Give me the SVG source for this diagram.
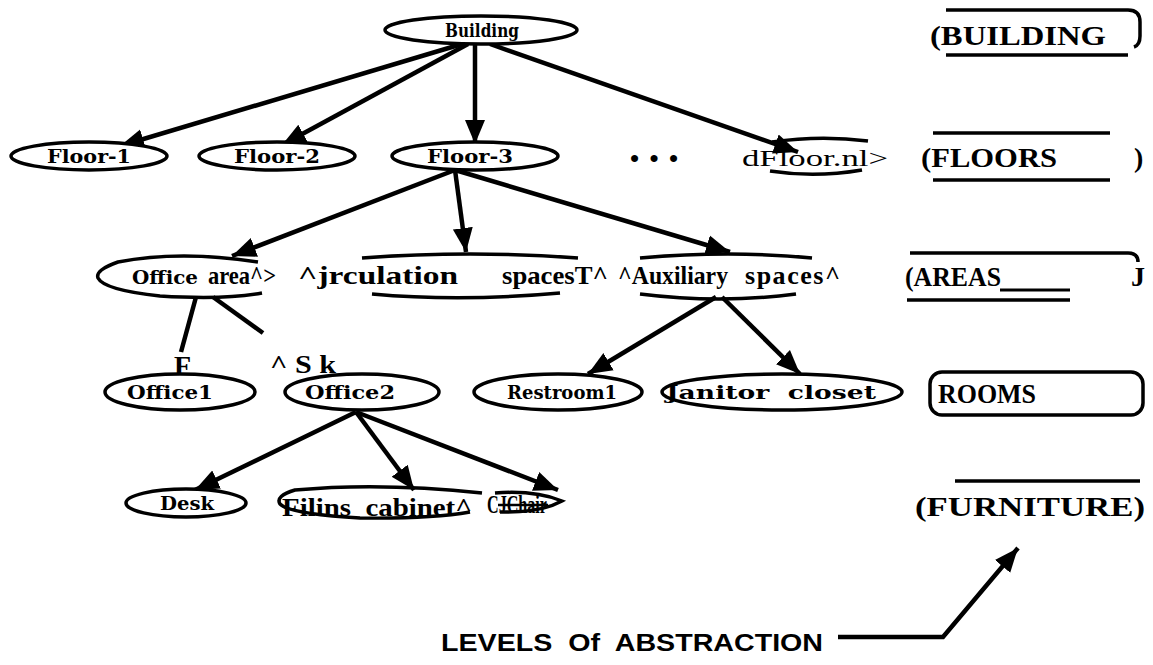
<svg xmlns="http://www.w3.org/2000/svg" width="1153" height="665" viewBox="0 0 1153 665">
<style>
.el{fill:#fff;stroke:#000;stroke-width:3.5}
.arc{fill:none;stroke:#000;stroke-width:3.5}
.ln{fill:none;stroke:#000;stroke-width:4.5}
.bl{font-family:"DejaVu Serif","Liberation Serif",serif;font-weight:bold;font-size:19px;fill:#000}
.tb{font-family:"Liberation Serif",serif;font-weight:bold;font-size:26px;fill:#000}
.tr{font-family:"Liberation Serif",serif;font-size:24px;fill:#000}
.lv{font-family:"Liberation Serif",serif;font-weight:bold;font-size:28px;fill:#000}
.ab{font-family:"Liberation Sans",Arial,sans-serif;font-weight:bold;font-size:24px;fill:#000}
</style>
<defs>
<marker id="ah" markerUnits="userSpaceOnUse" markerWidth="26" markerHeight="22" refX="24" refY="11" orient="auto">
<path d="M0,1 L24,11 L0,21 Z" fill="#000"/>
</marker>
</defs>

<g id="connectors">
<line class="ln" x1="462" y1="44" x2="120" y2="146" marker-end="url(#ah)"/>
<line class="ln" x1="468" y1="44" x2="282" y2="145" marker-end="url(#ah)"/>
<line class="ln" x1="475" y1="44" x2="475" y2="144" marker-end="url(#ah)"/>
<line class="ln" x1="490" y1="44" x2="798" y2="152" marker-end="url(#ah)"/>
<line class="ln" x1="455" y1="170" x2="232" y2="256" marker-end="url(#ah)"/>
<line class="ln" x1="455" y1="170" x2="466" y2="252" marker-end="url(#ah)"/>
<line class="ln" x1="455" y1="170" x2="730" y2="252" marker-end="url(#ah)"/>
<line class="ln" x1="196" y1="297" x2="181" y2="352"/>
<line class="ln" x1="213" y1="297" x2="263" y2="333"/>
<line class="ln" x1="716" y1="297" x2="588" y2="374" marker-end="url(#ah)"/>
<line class="ln" x1="722" y1="297" x2="800" y2="374" marker-end="url(#ah)"/>
<line class="ln" x1="356" y1="412" x2="195" y2="490" marker-end="url(#ah)"/>
<line class="ln" x1="356" y1="412" x2="414" y2="490" marker-end="url(#ah)"/>
<line class="ln" x1="356" y1="412" x2="558" y2="490" marker-end="url(#ah)"/>
<polyline class="ln" points="838,637 943,637 1018,548" stroke-width="3.5" marker-end="url(#ah)"/>
</g>

<g id="building">
<ellipse class="el" cx="481" cy="30" rx="96" ry="14"/>
<text class="bl" x="482" y="37" text-anchor="middle" textLength="74" lengthAdjust="spacingAndGlyphs">Building</text>
</g>

<g id="floor1">
<ellipse class="el" cx="89" cy="156" rx="78" ry="14"/>
<text class="bl" x="89" y="163" text-anchor="middle" textLength="84" lengthAdjust="spacingAndGlyphs">Floor-1</text>
</g>
<g id="floor2">
<ellipse class="el" cx="277" cy="156" rx="78" ry="14"/>
<text class="bl" x="277" y="163" text-anchor="middle" textLength="86" lengthAdjust="spacingAndGlyphs">Floor-2</text>
</g>
<g id="floor3">
<ellipse class="el" cx="475" cy="156" rx="83" ry="14"/>
<text class="bl" x="470" y="163" text-anchor="middle" textLength="86" lengthAdjust="spacingAndGlyphs">Floor-3</text>
</g>
<g id="dots">
<text class="tb" x="630" y="167" textLength="48" lengthAdjust="spacing">• • •</text>
</g>
<g id="floorn">
<path class="arc" d="M772,142 Q820,135 868,141"/>
<path class="arc" d="M770,171 Q815,178 862,170"/>
<text class="tr" x="742" y="166" textLength="146" lengthAdjust="spacingAndGlyphs">dFloor.nl&gt;</text>
</g>

<g id="office-area">
<path class="arc" d="M258,262 Q180,250 118,262 Q95,270 98,278 Q104,290 160,296 Q225,300 262,293"/>
<text class="bl" x="132" y="284" textLength="66" lengthAdjust="spacingAndGlyphs">Office</text>
<text class="tb" x="208" y="284" textLength="68" lengthAdjust="spacingAndGlyphs">area^&gt;</text>
</g>
<g id="circulation">
<path class="arc" d="M362,258 Q470,250 578,258"/>
<path class="arc" d="M372,294 Q460,302 560,293"/>
<text class="tb" x="298" y="284" textLength="160" lengthAdjust="spacingAndGlyphs">^jrculation</text>
<text class="tb" x="502" y="284" textLength="106" lengthAdjust="spacingAndGlyphs">spacesT^</text>
</g>
<g id="auxiliary">
<path class="arc" d="M640,258 Q730,250 812,258"/>
<path class="arc" d="M640,294 Q720,304 796,294"/>
<text class="tb" x="618" y="284" textLength="110" lengthAdjust="spacingAndGlyphs">^Auxiliary</text>
<text class="tb" x="745" y="284" textLength="95" lengthAdjust="spacing">spaces^</text>
</g>

<g id="office1-label">
<text class="lv" x="174" y="375">F</text>
<text class="tb" x="270" y="373" textLength="66" lengthAdjust="spacingAndGlyphs" xml:space="preserve">^ S k</text>
</g>
<g id="office1">
<ellipse class="el" cx="180" cy="392" rx="75" ry="18"/>
<text class="bl" x="170" y="399" text-anchor="middle" textLength="86" lengthAdjust="spacingAndGlyphs">Office1</text>
</g>
<g id="office2">
<ellipse class="el" cx="362" cy="392" rx="77" ry="18"/>
<text class="bl" x="350" y="399" text-anchor="middle" textLength="90" lengthAdjust="spacingAndGlyphs">Office2</text>
</g>
<g id="restroom1">
<ellipse class="el" cx="558" cy="392" rx="84" ry="18"/>
<text class="bl" x="562" y="399" text-anchor="middle" textLength="110" lengthAdjust="spacingAndGlyphs">Restroom1</text>
</g>
<g id="janitor">
<ellipse class="el" cx="782" cy="392" rx="120" ry="18"/>
<text class="bl" x="666" y="399" textLength="210" lengthAdjust="spacingAndGlyphs" xml:space="preserve">Janitor  closet</text>
</g>

<g id="desk">
<ellipse class="el" cx="186" cy="503" rx="60" ry="14"/>
<text class="bl" x="187" y="510" text-anchor="middle" textLength="54" lengthAdjust="spacingAndGlyphs">Desk</text>
</g>
<g id="filing">
<path class="arc" d="M482,493 Q380,482 295,490 Q275,496 280,504 Q290,514 360,518 Q430,519 470,512"/>
<text class="tb" x="282" y="516" textLength="190" lengthAdjust="spacingAndGlyphs" xml:space="preserve">Filins  cabinet^</text>
</g>
<g id="chair">
<path class="arc" d="M495,493 Q535,490 562,501 Q540,513 500,512"/>
<text class="tb" x="487" y="513" textLength="60" lengthAdjust="spacingAndGlyphs">CJChair</text>
<line x1="498" y1="505" x2="548" y2="505" stroke="#000" stroke-width="2.5"/>
</g>

<g id="level-building">
<path class="arc" d="M946,10 H1128 Q1140,10 1140,22 V36 Q1140,45 1134,47"/>
<path class="arc" d="M946,55 H1128"/>
<text class="lv" x="930" y="45" textLength="176" lengthAdjust="spacingAndGlyphs">(BUILDING</text>
</g>
<g id="level-floors">
<path class="arc" d="M933,133 H1110"/>
<path class="arc" d="M933,180 H1110"/>
<text class="lv" x="921" y="167" textLength="136" lengthAdjust="spacingAndGlyphs">(FLOORS</text>
<text class="lv" x="1134" y="167">)</text>
</g>
<g id="level-areas">
<path class="arc" d="M910,253 H1128 Q1138,253 1138,262"/>
<path class="arc" d="M907,300 H1070"/>
<text class="lv" x="905" y="286" textLength="96" lengthAdjust="spacingAndGlyphs">(AREAS</text>
<line x1="1000" y1="290" x2="1070" y2="290" stroke="#000" stroke-width="3"/>
<text class="lv" x="1131" y="286">J</text>
</g>
<g id="level-rooms">
<rect class="arc" x="930" y="372" width="213" height="43" rx="12"/>
<text class="lv" x="938" y="403" textLength="98" lengthAdjust="spacingAndGlyphs">ROOMS</text>
</g>
<g id="level-furniture">
<path class="arc" d="M955,481 H1140"/>
<text class="lv" x="915" y="516" textLength="230" lengthAdjust="spacingAndGlyphs">(FURNITURE)</text>
</g>
<g id="levels-label">
<text class="ab" x="441" y="651" textLength="382" lengthAdjust="spacingAndGlyphs" xml:space="preserve">LEVELS  Of  ABSTRACTION</text>
</g>
</svg>
